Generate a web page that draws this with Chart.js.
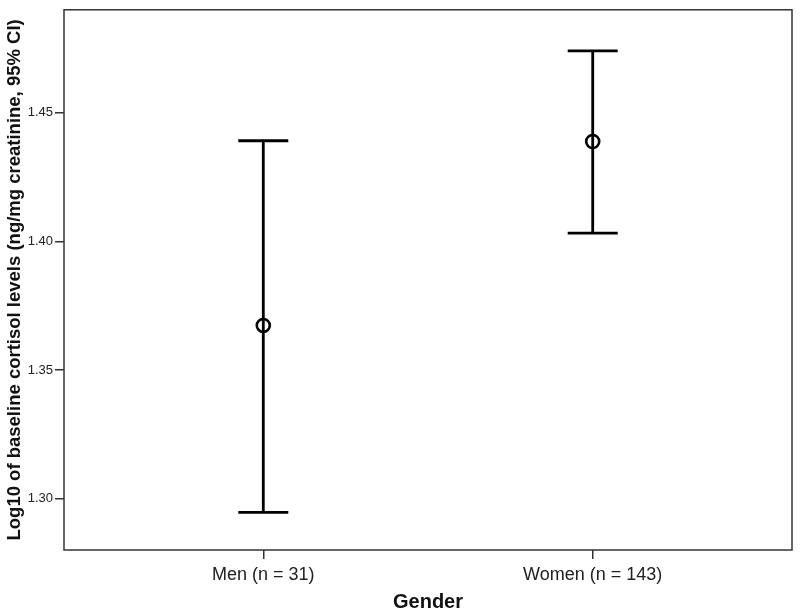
<!DOCTYPE html>
<html lang="en">
<head>
  <meta charset="UTF-8" />
  <title>Baseline cortisol by gender</title>
  <script src="https://cdn.jsdelivr.net/npm/chart.js"></script>
  <style>
    body { margin: 0; background: #fff; }
    canvas { display: block; }
  </style>
</head>
<body>
  <canvas id="ciChart" width="800" height="614"></canvas>

  <script>
    // values
    const groups = ['Men (n = 31)', 'Women (n = 143)'];
    const means = [1.3673, 1.4388];
    const lowerCI = [1.2946, 1.4032];
    const upperCI = [1.4391, 1.4740];
    const yTicks = [1.30, 1.35, 1.40, 1.45];

    const meanPoints = means.map((m, i) => ({ x: i + 1, y: m }));

    // error bars drawn from the CI arrays using the chart scales
    const errorBars = {
      id: 'errorBars',
      beforeDatasetsDraw(chart) {
        const { ctx, scales: { x, y } } = chart;
        const cap = 25;
        ctx.save();
        ctx.strokeStyle = '#000';
        ctx.lineWidth = 2.8;
        groups.forEach((g, i) => {
          const px = x.getPixelForValue(i + 1);
          const top = y.getPixelForValue(upperCI[i]);
          const bot = y.getPixelForValue(lowerCI[i]);
          ctx.beginPath();
          ctx.moveTo(px, top);
          ctx.lineTo(px, bot);
          ctx.moveTo(px - cap, top);
          ctx.lineTo(px + cap, top);
          ctx.moveTo(px - cap, bot);
          ctx.lineTo(px + cap, bot);
          ctx.stroke();
        });
        ctx.restore();
      }
    };

    // box around the plot area
    const frame = {
      id: 'frame',
      afterDraw(chart) {
        const { ctx, chartArea: a } = chart;
        ctx.save();
        ctx.strokeStyle = '#333';
        ctx.lineWidth = 1.5;
        ctx.strokeRect(a.left, a.top, a.right - a.left, a.bottom - a.top);
        ctx.restore();
      }
    };

    const ctx = document.getElementById('ciChart').getContext('2d');
    new Chart(ctx, {
      type: 'scatter',
      data: {
        datasets: [{
          label: 'Mean',
          data: meanPoints,
          showLine: false,
          pointRadius: 6.5,
          pointHoverRadius: 6.5,
          pointBorderWidth: 2.6,
          borderColor: '#000',
          backgroundColor: 'rgba(0,0,0,0)'
        }]
      },
      options: {
        responsive: false,
        animation: false,
        layout: { autoPadding: false, padding: { top: 2, right: 8, left: 0, bottom: 0 } },
        plugins: {
          legend: { display: false },
          tooltip: { enabled: false }
        },
        scales: {
          x: {
            type: 'linear',
            min: 0.395,
            max: 2.605,
            afterBuildTicks: (scale) => { scale.ticks = groups.map((g, i) => ({ value: i + 1 })); },
            afterFit: (scale) => { scale.height = 64; },
            border: { display: false },
            grid: { drawOnChartArea: false, drawTicks: true, tickLength: 9, color: '#333', lineWidth: 1.5 },
            ticks: {
              padding: 5,
              color: '#222',
              font: { family: 'Liberation Sans, Arial, sans-serif', size: 18 },
              callback: (v) => groups[v - 1]
            },
            title: {
              display: true,
              text: 'Gender',
              color: '#111',
              padding: { top: 0, bottom: 0 },
              font: { family: 'Liberation Sans, Arial, sans-serif', size: 20, weight: 'bold' }
            }
          },
          y: {
            min: 1.28,
            max: 1.49,
            afterBuildTicks: (scale) => { scale.ticks = yTicks.map(v => ({ value: v })); },
            afterFit: (scale) => { scale.width = 64; },
            border: { display: false },
            grid: { drawOnChartArea: false, drawTicks: true, tickLength: 9, color: '#333', lineWidth: 1.5 },
            ticks: {
              padding: 2,
              color: '#222',
              font: { family: 'Liberation Sans, Arial, sans-serif', size: 13 },
              callback: (v) => Number(v).toFixed(2)
            },
            title: {
              display: true,
              text: 'Log10 of baseline cortisol levels (ng/mg creatinine, 95% CI)',
              color: '#111',
              padding: { top: 4, bottom: 0 },
              font: { family: 'Liberation Sans, Arial, sans-serif', size: 18.5, weight: 'bold' }
            }
          }
        }
      },
      plugins: [errorBars, frame]
    });
  </script>
</body>
</html>
